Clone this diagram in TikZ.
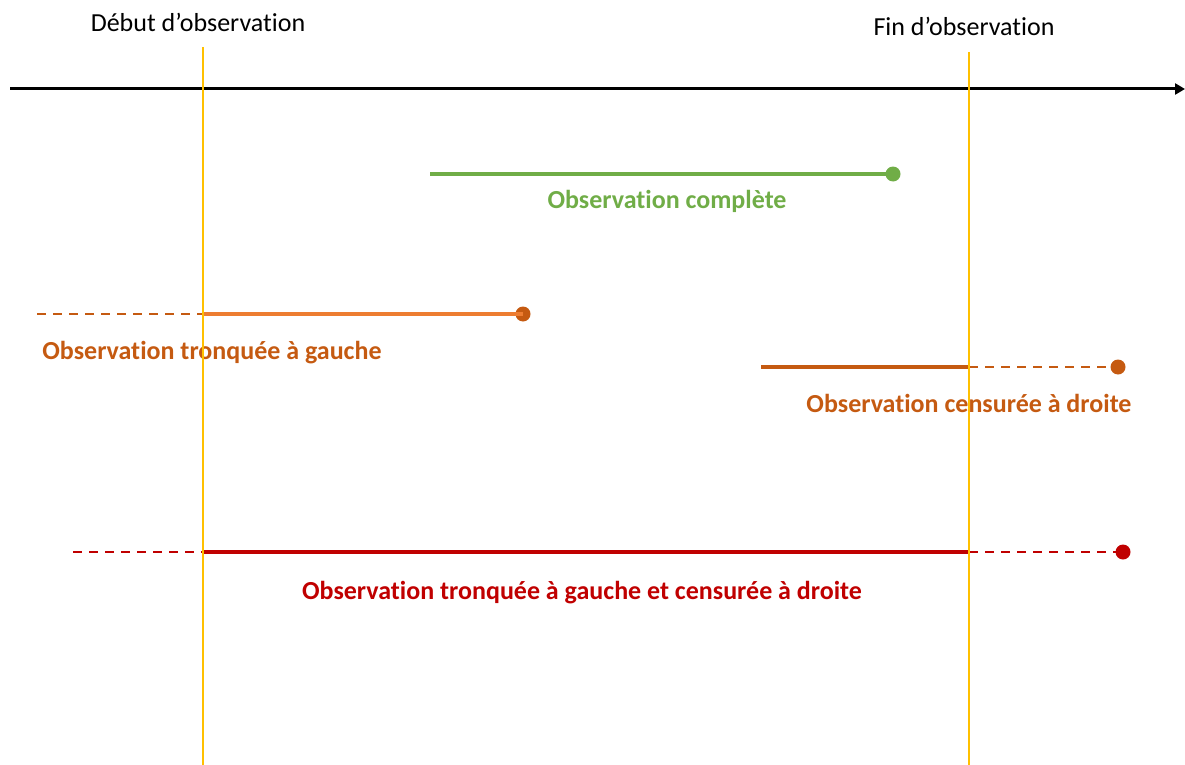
\documentclass[tikz,border=0pt]{standalone}
\usepackage{fontspec}
\setmainfont{Carlito}[Ligatures=NoCommon]
\usepackage{tikz}
\usetikzlibrary{arrows.meta}
\definecolor{vert}{HTML}{70AD47}
\definecolor{orange}{HTML}{ED7D31}
\definecolor{orangef}{HTML}{C55A11}
\definecolor{rouge}{HTML}{C00000}
\definecolor{jaune}{HTML}{FFC000}

\begin{document}
\begin{tikzpicture}[x=1pt,y=-1pt,
every node/.style={font=\fontsize{26}{30}\selectfont},
etiq/.style={font=\fontsize{26}{30}\selectfont\bfseries},
plein/.style={line width=4pt},
tirets/.style={line width=2pt,dash pattern=on 9pt off 7pt},
point/.style={circle,inner sep=0pt,minimum size=15pt}]
\useasboundingbox (0,0) rectangle (1185,765);
\def\ya{174}
\def\yb{314}
\def\yc{367}
\def\yd{552}

%axe du temps
\coordinate(t0) at (10,89);
\coordinate(t1) at (1185,89);
\draw[line width=3pt,-{Triangle[length=10pt,width=11pt]}] (t0) -- (t1);

%bornes d'observation
\coordinate(d0) at (203,47);
\coordinate(d1) at (203,765);
\coordinate(f0) at (969,52);
\coordinate(f1) at (969,765);
\node(debut) at (198,22) {Début d’observation};
\node(fin) at (964,26) {Fin d’observation};

%observation complete
\coordinate(a0) at (430,\ya);
\node[point,fill=vert](a1) at (893,\ya) {};
\draw[plein,vert] (a0) -- (a1.center);
\node[etiq,text=vert](la) at (667,201) {Observation complète};

%tronquee a gauche
\coordinate(b0) at (37,\yb);
\coordinate(b1) at (203,\yb);
\node[point,fill=orangef](b2) at (523,\yb) {};
\draw[tirets,orangef] (b0) -- (b1);
\draw[plein,orange] (b1) -- (b2.center);
\node[etiq,text=orangef](lb) at (212,353) {Observation tronquée à gauche};

%censuree a droite
\coordinate(c0) at (761,\yc);
\coordinate(c1) at (969,\yc);
\node[point,fill=orangef](c2) at (1118,\yc) {};
\draw[plein,orangef] (c0) -- (c1);
\draw[tirets,orangef] (c1) -- (c2.center);
\node[etiq,text=orangef](lc) at (969,403) {Observation censurée à droite};

%tronquee et censuree
\coordinate(e0) at (73,\yd);
\coordinate(e1) at (203,\yd);
\coordinate(e2) at (969,\yd);
\node[point,fill=rouge](e3) at (1123,\yd) {};
\draw[tirets,rouge] (e0) -- (e1);
\draw[plein,rouge] (e1) -- (e2);
\draw[tirets,rouge] (e2) -- (e3.center);
\node[etiq,text=rouge](le) at (582,593) {Observation tronquée à gauche et censurée à droite};

%lignes jaunes par dessus
\draw[line width=2pt,jaune] (d0) -- (d1);
\draw[line width=2pt,jaune] (f0) -- (f1);
\end{tikzpicture}
\end{document}
